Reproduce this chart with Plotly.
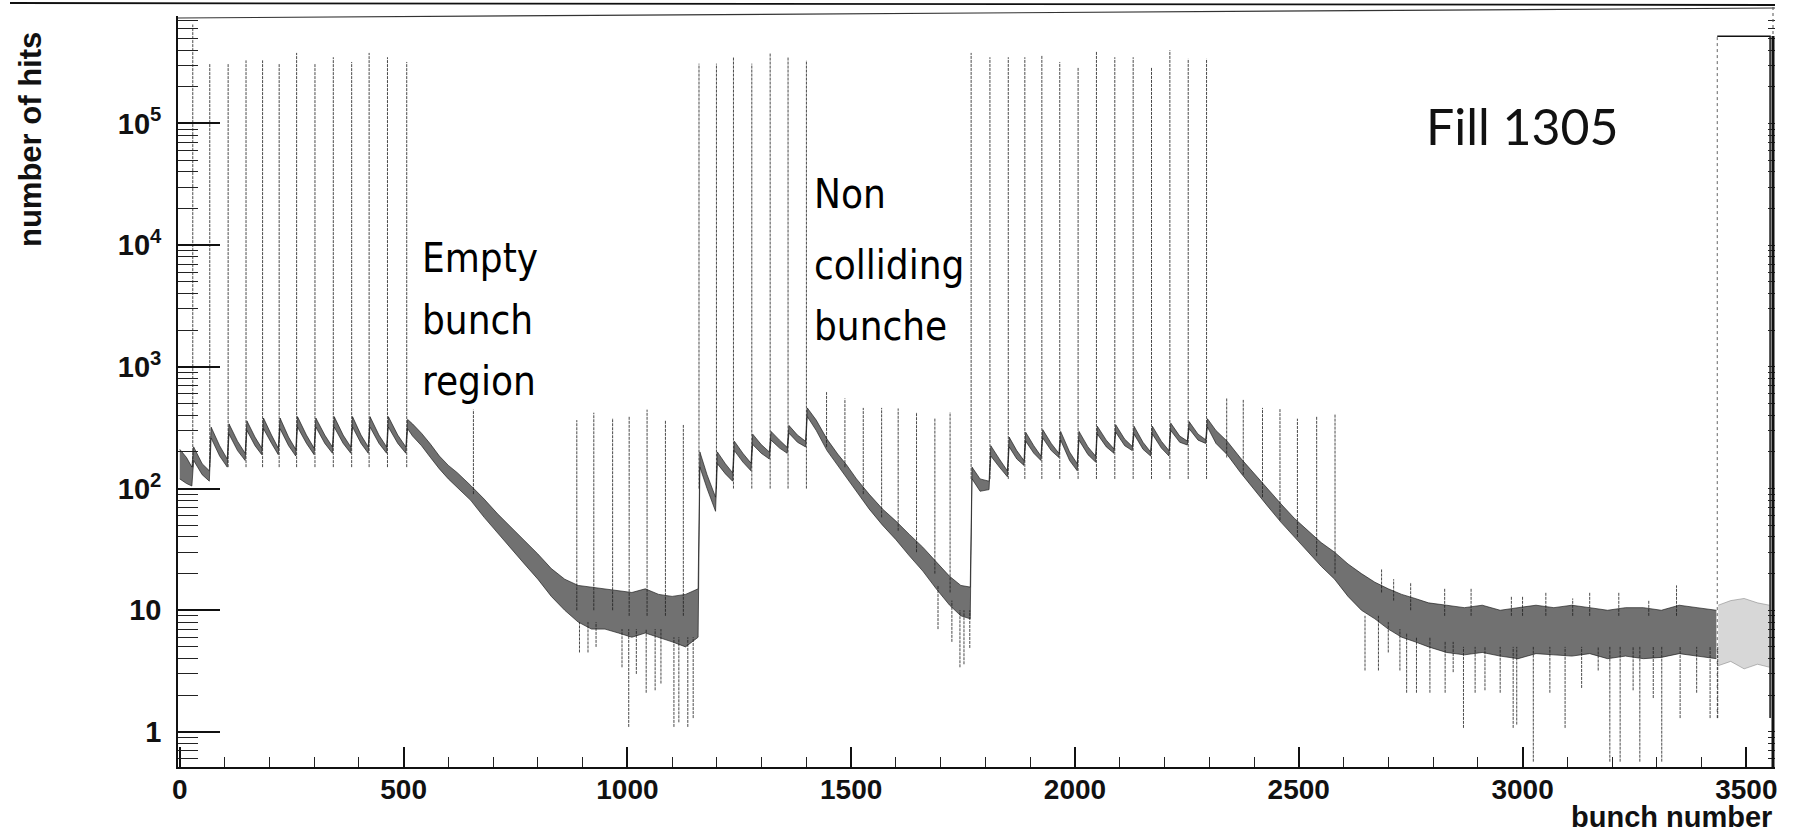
import math
import plotly.graph_objects as go

# ---------------------------------------------------------------
# Hit count per LHC bunch slot, fill 1305 (log scale)
# ---------------------------------------------------------------
W, H = 1798, 835
ML, MR, MT, MB = 178, 23, 16, 68          # plot area: x 178..1775, y 16..767
X_RANGE = [-4, 3564]
Y_RANGE = [-0.288, 5.883]                 # log10(hits)

# colliding-bunch trains: slot and peak height
train1_bunch = [29, 67, 108, 148, 185, 222, 261, 302, 343, 384, 423, 464, 507]
train1_peak = [6.5e5, 3.1e5, 3.1e5, 3.3e5, 3.3e5, 3.1e5, 3.8e5, 3.1e5, 3.5e5, 3.2e5, 3.8e5, 3.5e5, 3.2e5]
train2_bunch = [1160, 1199, 1237, 1278, 1319, 1359, 1400]
train2_peak = [3.1e5, 3.1e5, 3.5e5, 3.1e5, 3.8e5, 3.5e5, 3.3e5]
train3_bunch = [1768, 1810, 1851, 1888, 1926, 1966, 2007, 2048, 2089, 2130, 2171, 2212, 2253, 2294]
train3_peak = [3.8e5, 3.5e5, 3.5e5, 3.5e5, 3.6e5, 3.2e5, 2.9e5, 3.9e5, 3.5e5, 3.5e5, 2.9e5, 4.0e5, 3.4e5, 3.4e5]
train_base = [150, 100, 120]

# single (non colliding / satellite) bunches: slot, base, peak
single_bunch = [656, 887, 925, 967, 1004, 1044, 1085, 1125,
                1445, 1486, 1527, 1568, 1605, 1646, 1687, 1721,
                2339, 2376, 2419, 2458, 2497, 2540, 2581]
single_base = [90, 10, 10, 10, 9, 9, 9, 9,
               220, 150, 90, 58, 45, 30, 20, 14,
               180, 130, 85, 55, 40, 28, 20]
single_peak = [445, 365, 420, 380, 390, 445, 365, 333,
               620, 550, 460, 460, 455, 425, 380, 425,
               560, 535, 460, 450, 375, 390, 410]

# background envelope (slot, lower, upper)
train1_env = [(0, 120, 210), (15, 110, 180), (27, 105, 150),
              (31, 170, 220), (50, 130, 160), (66, 115, 140),
              (70, 260, 320), (89, 185, 225), (106, 150, 175),
              (110, 280, 340), (129, 205, 245), (146, 170, 195),
              (150, 300, 360), (168, 225, 265), (183, 190, 215),
              (187, 310, 380), (205, 235, 275), (220, 190, 215),
              (224, 310, 380), (243, 225, 265), (259, 185, 210),
              (263, 320, 390), (283, 235, 275), (300, 190, 215),
              (304, 320, 380), (324, 235, 275), (341, 195, 220),
              (345, 320, 390), (365, 235, 275), (382, 195, 220),
              (386, 320, 390), (405, 235, 275), (421, 195, 220),
              (425, 320, 390), (445, 235, 275), (462, 195, 220),
              (466, 320, 390), (487, 235, 275), (505, 195, 220),
              (509, 310, 370)]
decay1_env = [(520, 270, 340), (540, 225, 285), (560, 180, 232), (580, 145, 185),
              (600, 120, 155), (620, 102, 135), (650, 80, 106), (680, 58, 82),
              (710, 43, 62), (740, 32, 48), (770, 24, 37), (800, 18, 29),
              (830, 13, 22), (860, 10, 18), (890, 8, 16), (920, 7, 15.5),
              (950, 7, 15), (980, 6.5, 14.5), (1010, 6, 14), (1040, 6.5, 15),
              (1070, 6, 13.5), (1100, 5.5, 13), (1130, 5, 13.5), (1158, 6, 15)]
train2_env = [(1162, 150, 200), (1178, 100, 130), (1197, 65, 85),
              (1201, 160, 200), (1219, 132, 160), (1235, 115, 135),
              (1239, 205, 245), (1258, 165, 195), (1276, 140, 162),
              (1280, 230, 280), (1299, 195, 230), (1317, 175, 200),
              (1321, 250, 295), (1340, 215, 250), (1357, 195, 218),
              (1361, 285, 330), (1380, 240, 275), (1398, 220, 245),
              (1402, 390, 460)]
decay2_env = [(1422, 300, 365), (1446, 205, 255), (1470, 155, 192), (1490, 122, 156),
              (1512, 95, 120), (1540, 68, 90), (1570, 50, 68), (1600, 38, 54),
              (1630, 28, 42), (1660, 21, 33), (1690, 15, 25), (1720, 11, 19),
              (1745, 9, 16), (1766, 8.5, 15.5)]
train3_env = [(1770, 120, 150), (1788, 95, 120), (1808, 98, 115),
              (1812, 185, 225), (1831, 150, 175), (1849, 125, 140),
              (1853, 220, 265), (1870, 175, 205), (1886, 155, 170),
              (1890, 245, 290), (1908, 195, 225), (1924, 170, 185),
              (1928, 260, 305), (1947, 205, 235), (1964, 180, 195),
              (1968, 250, 295), (1988, 170, 200), (2005, 140, 160),
              (2009, 250, 295), (2029, 190, 220), (2046, 165, 185),
              (2050, 280, 325), (2070, 220, 250), (2087, 195, 212),
              (2091, 290, 335), (2111, 225, 255), (2128, 205, 222),
              (2132, 280, 325), (2152, 210, 240), (2169, 185, 200),
              (2173, 280, 325), (2193, 215, 245), (2210, 185, 205),
              (2214, 300, 345), (2234, 240, 270), (2251, 228, 246),
              (2255, 310, 355), (2275, 250, 280), (2292, 235, 252),
              (2296, 320, 375)]
decay3_env = [(2315, 235, 300), (2340, 190, 245), (2370, 135, 178), (2400, 98, 133),
              (2430, 72, 100), (2460, 53, 75), (2490, 40, 57), (2520, 30, 45),
              (2550, 23, 36), (2580, 18, 30), (2610, 13, 24), (2640, 10, 20),
              (2670, 8.5, 17), (2700, 7, 15), (2730, 6, 13.5), (2760, 5.5, 12.5),
              (2790, 5, 11.5), (2830, 4.5, 11)]
tail_env = [(2870, 4.3, 10.5), (2910, 4.5, 11), (2950, 4.2, 10), (2990, 4, 10.5),
            (3030, 4.4, 11), (3070, 4.3, 10.5), (3110, 4.2, 11), (3150, 4.4, 10.5),
            (3190, 4, 10), (3230, 4.2, 10.5), (3270, 4, 10.5), (3310, 4.1, 10),
            (3350, 4.4, 11), (3390, 4.2, 10.5), (3433, 4, 10)]
gap_env = [(3437, 3.5, 11), (3465, 3.8, 12), (3495, 3.3, 12.5), (3525, 3.6, 11.5), (3552, 3.4, 11)]

# downward fluctuations: slot, lowest count, band level
dip_bunch = [893, 912, 930, 988, 1003, 1020, 1042, 1062, 1075, 1104, 1115, 1135, 1147,
             1694, 1725, 1743, 1752, 1765,
             2648, 2678, 2700, 2726, 2741, 2763, 2793, 2827, 2845, 2868, 2894, 2916,
             2950, 2979, 2987, 3024, 3061, 3095, 3132, 3169, 3195, 3218, 3247, 3262,
             3292, 3311, 3352, 3389, 3419, 3436]
dip_low = [4.5, 4.5, 5, 3.4, 1.1, 3, 2.1, 2.2, 2.5, 1.1, 1.2, 1.1, 1.3,
           7, 5.5, 3.4, 3.6, 4.9,
           3.2, 3.2, 4.5, 3.2, 2.1, 2.1, 2.1, 2.1, 3.1, 1.08, 2.1, 2.2,
           2.1, 1.08, 1.15, 0.57, 2.1, 1.08, 2.3, 3.2, 0.57, 0.57, 2.2, 0.57,
           1.9, 0.57, 1.3, 2.1, 1.3, 1.3]
dip_top = [8, 8, 8, 7, 7, 7, 7, 7, 7, 6, 6, 6, 6,
           16, 12, 10, 10, 10,
           9, 9, 8, 7, 6.5, 6, 6, 5.5, 5.5, 5, 5, 5,
           5, 5, 5, 5, 5, 5, 5, 5, 5, 5, 5, 5,
           5, 5, 5, 5, 5, 5]

# upward fluctuations in the low-rate region: slot, band level, highest count
up_bunch = [2685, 2712, 2750, 2826, 2885, 2975, 3000, 3052, 3112, 3150, 3215, 3282, 3344]
up_base = [14, 12, 10, 9, 9, 9, 9, 9, 9, 9, 9, 9, 9]
up_peak = [22, 18, 17, 15, 15, 13, 13, 14, 12.5, 14, 14, 12, 16]

# abort-gap block
gap_start, gap_end, gap_level, gap_floor = 3435, 3553, 5.2e5, 1.3

# axis tick labels
xtick_vals = [0, 500, 1000, 1500, 2000, 2500, 3000, 3500]
ytick_vals = [1, 10, 100, 1000, 10000, 100000]
ytick_text = ["1", "10", "10<sup>2</sup>", "10<sup>3</sup>", "10<sup>4</sup>", "10<sup>5</sup>"]


def px_x(px):
    return (px - ML) / (W - ML - MR)


def px_y(py):
    return (H - MB - py) / (H - MB - MT)


def segments(xs, lows, highs):
    X, Y = [], []
    for x, a, b in zip(xs, lows, highs):
        X += [x, x, None]
        Y += [a, b, None]
    return X, Y


env = train1_env + decay1_env + train2_env + decay2_env + train3_env + decay3_env + tail_env
env_x = [p[0] for p in env]
env_lo = [p[1] for p in env]
env_hi = [p[2] for p in env]
gap_x = [p[0] for p in gap_env]
gap_lo = [p[1] for p in gap_env]
gap_hi = [p[2] for p in gap_env]

INK = "rgba(30,30,30,0.8)"
SPIKE = dict(color=INK, width=1.0, dash="3px,1px")
fig = go.Figure()

# background band
fig.add_trace(go.Scatter(x=env_x, y=env_lo, mode="lines",
                         line=dict(color="rgba(20,20,20,0.8)", width=0.8),
                         hoverinfo="skip", showlegend=False))
fig.add_trace(go.Scatter(x=env_x, y=env_hi, mode="lines", fill="tonexty",
                         fillcolor="rgba(40,40,40,0.66)",
                         line=dict(color="rgba(20,20,20,0.8)", width=0.8),
                         hoverinfo="skip", showlegend=False))
fig.add_trace(go.Scatter(x=gap_x, y=gap_lo, mode="lines",
                         line=dict(color="rgba(120,120,120,0.7)", width=0.7),
                         hoverinfo="skip", showlegend=False))
fig.add_trace(go.Scatter(x=gap_x, y=gap_hi, mode="lines", fill="tonexty",
                         fillcolor="rgba(140,140,140,0.35)",
                         line=dict(color="rgba(120,120,120,0.7)", width=0.7),
                         hoverinfo="skip", showlegend=False))

# colliding trains
sx, sy = [], []
for bunches, peaks, base in [(train1_bunch, train1_peak, train_base[0]),
                             (train2_bunch, train2_peak, train_base[1]),
                             (train3_bunch, train3_peak, train_base[2])]:
    X, Y = segments(bunches, [base] * len(bunches), peaks)
    sx += X
    sy += Y
fig.add_trace(go.Scatter(x=sx, y=sy, mode="lines", line=SPIKE,
                         hoverinfo="skip", showlegend=False, yaxis="y2"))

# single bunches
X, Y = segments(single_bunch, single_base, single_peak)
fig.add_trace(go.Scatter(x=X, y=Y, mode="lines", line=SPIKE,
                         hoverinfo="skip", showlegend=False, yaxis="y2"))

# fluctuations
X, Y = segments(dip_bunch, dip_low, dip_top)
fig.add_trace(go.Scatter(x=X, y=Y, mode="lines", line=SPIKE,
                         hoverinfo="skip", showlegend=False, yaxis="y3"))
X, Y = segments(up_bunch, up_base, up_peak)
fig.add_trace(go.Scatter(x=X, y=Y, mode="lines", line=SPIKE,
                         hoverinfo="skip", showlegend=False, yaxis="y3"))

# abort-gap block
fig.add_trace(go.Scatter(x=[gap_start, gap_start], y=[gap_floor, gap_level], mode="lines",
                         line=dict(color="rgba(60,60,60,0.8)", width=1.0, dash="dot"),
                         hoverinfo="skip", showlegend=False, yaxis="y2"))
fig.add_trace(go.Scatter(x=[gap_start, gap_end, gap_end], y=[gap_level, gap_level, gap_floor],
                         mode="lines", line=dict(color="#111", width=1.5),
                         hoverinfo="skip", showlegend=False, yaxis="y2"))

TICK_FONT = dict(family="Liberation Sans, Arial, sans-serif", size=29, color="#111", weight="bold")
XTICK_FONT = dict(family="Liberation Sans, Arial, sans-serif", size=28, color="#111", weight="bold")
minor_y = [m * 10 ** d for d in range(-1, 6) for m in range(2, 10)
           if Y_RANGE[0] < math.log10(m * 10 ** d) < Y_RANGE[1]]

fig.update_layout(
    width=W, height=H,
    margin=dict(l=ML, r=MR, t=MT, b=MB),
    paper_bgcolor="white", plot_bgcolor="white",
    showlegend=False,
    xaxis=dict(range=X_RANGE, tickvals=xtick_vals, ticks="inside", ticklen=20, tickwidth=1.5,
               tickcolor="#111", showline=True, linecolor="#111", linewidth=1.6,
               ticklabelstandoff=-3,
               showgrid=False, zeroline=False, tickfont=XTICK_FONT,
               minor=dict(dtick=100, tick0=0, ticks="inside", ticklen=10, tickwidth=1.2,
                          tickcolor="#222", showgrid=False)),
    yaxis=dict(type="log", range=Y_RANGE, tickvals=ytick_vals, ticktext=ytick_text,
               ticks="inside", ticklen=42, tickwidth=1.5, tickcolor="#111",
               showline=True, linecolor="#111", linewidth=1.6, ticklabelstandoff=9,
               showgrid=False, zeroline=False, tickfont=TICK_FONT),
    yaxis2=dict(type="log", range=Y_RANGE, overlaying="y", side="right", anchor="x",
                tickvals=ytick_vals + minor_y, ticks="inside", ticklen=7, tickwidth=1.2,
                tickcolor="#222", showticklabels=False, showline=False, showgrid=False,
                zeroline=False),
    yaxis3=dict(type="log", range=Y_RANGE, overlaying="y", side="left", anchor="x",
                tickvals=minor_y, ticks="inside", ticklen=20, tickwidth=1.2,
                tickcolor="#222", showticklabels=False, showline=False, showgrid=False,
                zeroline=False),
)

# frame lines
fig.add_shape(type="line", xref="paper", yref="paper", x0=px_x(10), y0=px_y(3),
              x1=px_x(1775), y1=px_y(5), line=dict(color="#111", width=1.8))
fig.add_shape(type="line", xref="paper", yref="paper", x0=px_x(178), y0=px_y(18),
              x1=px_x(1775), y1=px_y(8), line=dict(color="#333", width=1.2))
fig.add_shape(type="line", xref="paper", yref="paper", x0=px_x(1773), y0=px_y(36),
              x1=px_x(1773), y1=px_y(767), line=dict(color="#111", width=3))
fig.add_shape(type="line", xref="paper", yref="paper", x0=px_x(1773), y0=px_y(7),
              x1=px_x(1773), y1=px_y(36), line=dict(color="#555", width=1, dash="dot"))

# axis titles
TITLE_FONT = dict(family="Liberation Sans, Arial, sans-serif", size=31, color="#111", weight="bold")
fig.add_annotation(text="number of hits", xref="paper", yref="paper", x=px_x(30), y=px_y(140),
                   textangle=-90, showarrow=False, font=TITLE_FONT,
                   xanchor="center", yanchor="middle")
fig.add_annotation(text="bunch number", xref="paper", yref="paper", x=px_x(1774), y=px_y(835),
                   showarrow=False, font=dict(family="Liberation Sans, Arial, sans-serif", size=29,
                                              color="#111", weight="bold"),
                   xanchor="right", yanchor="bottom")

# labels on the plot
NOTE_FONT = dict(family="DejaVu Sans Condensed, Liberation Sans, sans-serif", size=40, color="black")
for txt, yc in [("Empty", 258), ("bunch", 320), ("region", 381)]:
    fig.add_annotation(text=txt, xref="paper", yref="paper", x=px_x(420), y=px_y(yc),
                       showarrow=False, font=NOTE_FONT, xanchor="left", yanchor="middle")
for txt, yc in [("Non", 194), ("colliding", 265), ("bunche", 326)]:
    fig.add_annotation(text=txt, xref="paper", yref="paper", x=px_x(812), y=px_y(yc),
                       showarrow=False, font=NOTE_FONT, xanchor="left", yanchor="middle")
fig.add_annotation(text="Fill 1305", xref="paper", yref="paper", x=px_x(1424), y=px_y(126),
                   showarrow=False, font=dict(family="Lato, Open Sans, sans-serif", size=50, color="#111"),
                   xanchor="left", yanchor="middle")

fig.write_html("out.html")
